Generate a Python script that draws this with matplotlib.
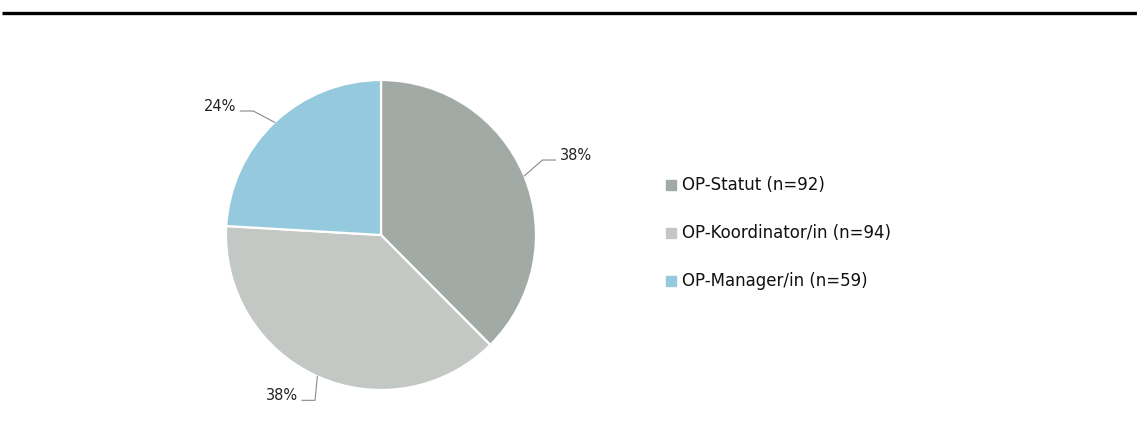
import numpy as np
import matplotlib.pyplot as plt
from matplotlib.lines import Line2D

labels = ["OP-Statut", "OP-Koordinator/in", "OP-Manager/in"]
counts = [92, 94, 59]
colors = ["#a1aaa5", "#c3c8c4", "#94c9de"]


def do_plot():
    fig = plt.figure(figsize=(11.37, 4.33), dpi=100)
    ax = fig.add_axes([0, 0, 1, 1])
    # axes in pixel units, y upward
    cx, cy, r = 381, 433 - 235, 155
    wedges, _ = ax.pie(counts, colors=colors, startangle=90, counterclock=False,
                       center=(cx, cy), radius=r,
                       wedgeprops=dict(edgecolor="white", linewidth=1.6))
    ax.set_xlim(0, 1137)
    ax.set_ylim(0, 433)
    ax.set_aspect("equal")
    ax.axis("off")

    # top rule
    ax.plot([2, 1137], [433 - 13, 433 - 13], color="black", lw=2.4,
            solid_capstyle="butt")

    total = sum(counts)
    for w, n in zip(wedges, counts):
        mid = np.deg2rad((w.theta1 + w.theta2) / 2)
        x0, y0 = cx + r * np.cos(mid), cy + r * np.sin(mid)
        a = mid + np.deg2rad(2.5)
        x1, y1 = cx + (r + 23) * np.cos(a), cy + (r + 23) * np.sin(a)
        side = 1 if np.cos(mid) >= 0 else -1
        x2 = x1 + side * 13
        ax.plot([x0, x1, x2], [y0, y1, y1], color="#8a8a8a", lw=0.8)
        ax.text(x2 + side * 4, y1 + 0.5, "%d%%" % round(100 * n / total),
                ha="left" if side > 0 else "right", va="baseline",
                fontsize=10.5, color="#222222")

    handles = [Line2D([], [], marker="s", linestyle="none", markersize=6.5,
                      markerfacecolor=c, markeredgecolor=c) for c in colors]
    ax.legend(handles, ["%s (n=%d)" % (l, n) for l, n in zip(labels, counts)],
              loc="upper left", bbox_to_anchor=(657 / 1137, 1 - 168 / 433),
              frameon=False, fontsize=12, labelspacing=1.8,
              handlelength=0.7, handletextpad=0.3, borderpad=0,
              labelcolor="#111111")

    plt.savefig("out.png", dpi=100)


if __name__ == '__main__':
    do_plot()
